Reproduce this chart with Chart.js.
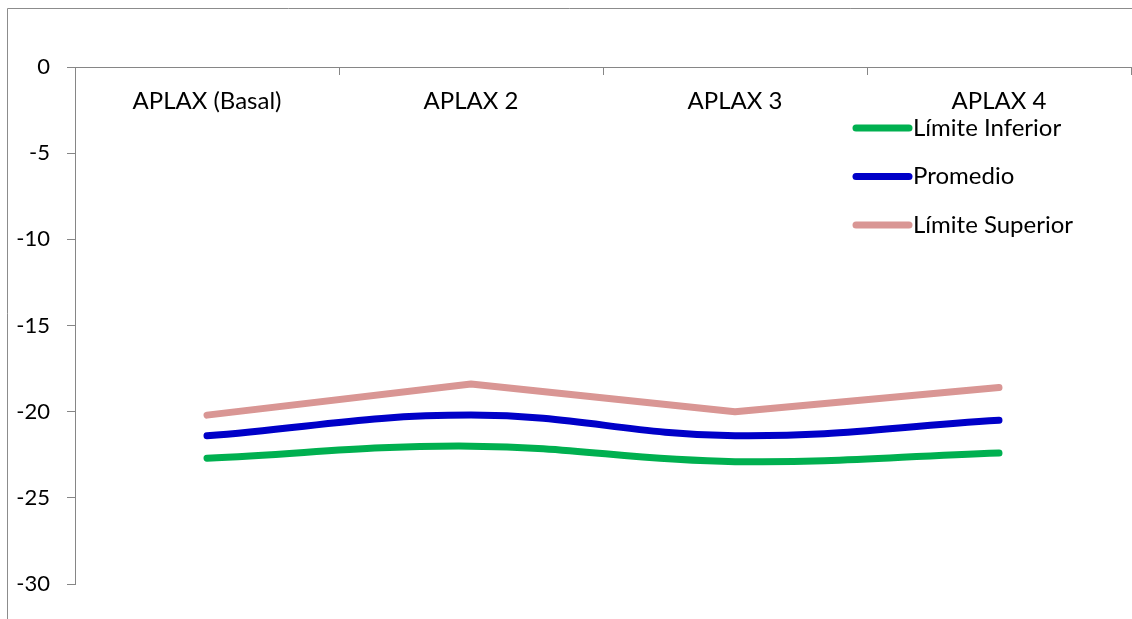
<!DOCTYPE html>
<html>
<head>
<meta charset="utf-8">
<script src="https://cdn.jsdelivr.net/npm/chart.js@4"></script>
<style>
  html, body { margin: 0; padding: 0; background: #ffffff; }
  #wrap { width: 1132px; height: 619px; position: relative; }
</style>
</head>
<body>
<div id="wrap"><canvas id="c"></canvas></div>
<script>
// Categories and series
const categories = ['APLAX (Basal)', 'APLAX 2', 'APLAX 3', 'APLAX 4'];
const seriesNames = ['Límite Inferior', 'Promedio', 'Límite Superior'];
const limiteInferior = [-22.7, -22.0, -22.9, -22.4];
const promedio = [-21.4, -20.2, -21.4, -20.5];
const limiteSuperior = [-20.2, -18.4, -20.0, -18.6];
const yTicks = [0, -5, -10, -15, -20, -25, -30];

const FONT = 'Lato, "Open Sans", sans-serif';
const TEXT_SIZE = 24;
const TICK_SIZE = 22;
const AXIS_GREY = '#868686';

// Outer frame of the chart (top and left edges)
const framePlugin = {
  id: 'frame',
  beforeDraw(chart) {
    const ctx = chart.ctx;
    ctx.save();
    ctx.strokeStyle = '#8c8c8c';
    ctx.lineWidth = 1;
    ctx.beginPath();
    ctx.moveTo(7.5, chart.height);
    ctx.lineTo(7.5, 8.5);
    ctx.lineTo(chart.width, 8.5);
    ctx.stroke();
    ctx.restore();
  }
};

// Category names drawn just below the top axis line
const categoryLabels = {
  id: 'categoryLabels',
  afterDraw(chart) {
    const ctx = chart.ctx;
    const xs = chart.scales.x;
    ctx.save();
    ctx.font = TEXT_SIZE + 'px ' + FONT;
    ctx.fillStyle = '#000';
    ctx.textAlign = 'center';
    ctx.textBaseline = 'middle';
    categories.forEach((c, i) => {
      ctx.fillText(c, xs.getPixelForValue(i), chart.chartArea.top + 34);
    });
    ctx.restore();
  }
};

// Legend inside the plot, at the upper right
const insideLegend = {
  id: 'insideLegend',
  afterDraw(chart) {
    const ctx = chart.ctx;
    const x0 = 856, x1 = 909, tx = 913;
    const y0 = 128, step = 48.5;
    ctx.save();
    ctx.font = TEXT_SIZE + 'px ' + FONT;
    ctx.textAlign = 'left';
    ctx.textBaseline = 'middle';
    chart.data.datasets.forEach((ds, i) => {
      const y = y0 + i * step;
      ctx.strokeStyle = ds.borderColor;
      ctx.lineWidth = 7;
      ctx.lineCap = 'round';
      ctx.beginPath();
      ctx.moveTo(x0, y);
      ctx.lineTo(x1, y);
      ctx.stroke();
      ctx.fillStyle = '#000';
      ctx.fillText(ds.label, tx, y);
    });
    ctx.restore();
  }
};

const lineStyle = {
  borderWidth: 7,
  pointRadius: 0,
  pointHoverRadius: 0,
  borderCapStyle: 'round',
  borderJoinStyle: 'round',
  fill: false
};

new Chart(document.getElementById('c'), {
  type: 'line',
  data: {
    labels: categories,
    datasets: [
      Object.assign({ label: seriesNames[0], data: limiteInferior, borderColor: '#00B050', tension: 0.4 }, lineStyle),
      Object.assign({ label: seriesNames[1], data: promedio, borderColor: '#0000C8', tension: 0.4 }, lineStyle),
      Object.assign({ label: seriesNames[2], data: limiteSuperior, borderColor: '#D99694', tension: 0 }, lineStyle)
    ]
  },
  options: {
    responsive: true,
    maintainAspectRatio: false,
    animation: false,
    devicePixelRatio: 1,
    layout: { padding: { left: 0, top: 0, right: 1, bottom: 35 } },
    plugins: {
      legend: { display: false },
      tooltip: { enabled: false }
    },
    scales: {
      x: {
        type: 'category',
        position: 'top',
        offset: true,
        grid: { offset: true, drawOnChartArea: false, drawTicks: true, tickLength: -8, color: AXIS_GREY },
        border: { display: true, color: AXIS_GREY, width: 1 },
        ticks: { display: false },
        afterFit(s) { s.height = 67; }
      },
      y: {
        min: -30,
        max: 0,
        grid: { drawOnChartArea: false, drawTicks: true, tickLength: 8, color: AXIS_GREY },
        border: { display: true, color: AXIS_GREY, width: 1 },
        ticks: { padding: 17, color: '#000', font: { family: FONT, size: TICK_SIZE } },
        afterBuildTicks(s) { s.ticks = yTicks.map(v => ({ value: v })); },
        afterFit(s) { s.width = 75; }
      }
    }
  },
  plugins: [framePlugin, categoryLabels, insideLegend]
});
</script>
</body>
</html>
